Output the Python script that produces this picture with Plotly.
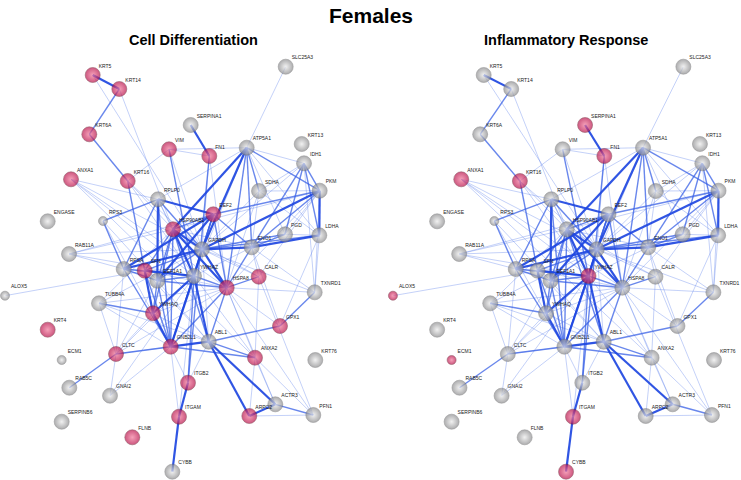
import plotly.graph_objects as go

# ---------------- data ----------------
genes = ['KRT5', 'KRT14', 'KRT6A', 'SERPINA1', 'VIM', 'FN1', 'ATP5A1', 'SLC25A3', 'KRT13', 'IDH1',
         'ANXA1', 'KRT16', 'SDHA', 'PKM', 'RPLP0', 'EEF2', 'ENGASE', 'RPS3', 'HSP90AB1', 'PGD',
         'LDHA', 'GAPDH', 'ENO1', 'RAB11A', 'RPSA', 'SFN', 'EEF1A1', 'YWHAZ', 'HSPA8', 'CALR',
         'TXNRD1', 'ALOX5', 'TUBB4A', 'YWHAQ', 'KRT4', 'GPX1', 'GNB2L1', 'ABL1', 'CLTC', 'ECM1',
         'ANXA2', 'KRT76', 'ITGB2', 'RAB5C', 'GNAI2', 'ACTR3', 'ITGAM', 'ARPC2', 'PFN1', 'SERPINB6',
         'FLNB', 'CYBB']

# network layout coordinates (layout units)
layout_x = [92.7, 119.3, 89.3, 190.7, 169, 209.3, 246.7, 285.7, 301.7, 304,
            71, 127.7, 259, 319.7, 158, 213.3, 47.7, 103, 173, 285,
            319.3, 202, 251.7, 69, 123.7, 144.7, 157.3, 194, 226.7, 258.7,
            314.7, 5, 99, 153, 47.7, 280, 170.7, 208.7, 116, 61.7,
            255, 315.3, 188, 69.3, 110, 275.3, 179, 249.3, 313.3, 61.7,
            132.3, 172.3]
layout_y = [75, 89, 134.3, 125, 149.3, 156, 147.7, 66.7, 144, 163.3,
            179.3, 181, 191, 190.7, 199.3, 214.3, 221.3, 221, 229.3, 234.3,
            235.3, 249.3, 247.3, 254, 269, 270.7, 280.7, 276, 287.7, 276.7,
            292.3, 295.7, 303.3, 313.3, 329.7, 326, 346.7, 341.7, 354, 360,
            357.7, 360, 382.7, 387.7, 395.7, 404.3, 416.7, 416, 415, 421.7,
            437.3, 471.7]

small_nodes = ['RPS3', 'ALOX5', 'ECM1']

cell_differentiation = ['KRT5', 'KRT14', 'KRT6A', 'VIM', 'FN1', 'ANXA1', 'KRT16', 'EEF2', 'HSP90AB1',
                        'SFN', 'HSPA8', 'CALR', 'KRT4', 'GPX1', 'GNB2L1', 'CLTC', 'ANXA2', 'ITGB2',
                        'ITGAM', 'ARPC2', 'FLNB', 'YWHAQ']
inflammatory_response = ['SERPINA1', 'FN1', 'ANXA1', 'KRT16', 'ALOX5', 'YWHAZ', 'ECM1', 'ITGAM', 'CYBB']

# interactions: (gene A, gene B, confidence class 1=low 2=medium 3=high)
edges = [
    ('KRT5', 'KRT14', 3), ('KRT14', 'KRT6A', 2), ('KRT6A', 'KRT16', 2), ('KRT5', 'HSPA8', 1),
    ('KRT14', 'HSP90AB1', 1), ('SERPINA1', 'FN1', 3), ('VIM', 'FN1', 1), ('VIM', 'ATP5A1', 1),
    ('VIM', 'KRT16', 1), ('VIM', 'YWHAZ', 2), ('VIM', 'GAPDH', 1), ('FN1', 'ITGB2', 2),
    ('FN1', 'GAPDH', 1), ('FN1', 'HSPA8', 1), ('SLC25A3', 'ATP5A1', 1),
    ('ATP5A1', 'SDHA', 2), ('ATP5A1', 'PKM', 2), ('ATP5A1', 'ENO1', 2), ('ATP5A1', 'GAPDH', 3),
    ('ATP5A1', 'HSP90AB1', 3), ('ATP5A1', 'YWHAZ', 1), ('ATP5A1', 'LDHA', 1), ('ATP5A1', 'PGD', 1),
    ('ATP5A1', 'IDH1', 1), ('ATP5A1', 'HSPA8', 2), ('ATP5A1', 'RPLP0', 1),
    ('IDH1', 'PKM', 2), ('IDH1', 'LDHA', 2), ('IDH1', 'ENO1', 2), ('IDH1', 'SDHA', 1),
    ('IDH1', 'PGD', 2), ('IDH1', 'GAPDH', 1), ('IDH1', 'TXNRD1', 1),
    ('PKM', 'LDHA', 3), ('PKM', 'ENO1', 2), ('PKM', 'GAPDH', 3), ('PKM', 'PGD', 1),
    ('PKM', 'SDHA', 1), ('PKM', 'EEF2', 2), ('PKM', 'TXNRD1', 1), ('PKM', 'HSPA8', 1),
    ('SDHA', 'ENO1', 1), ('SDHA', 'LDHA', 1), ('SDHA', 'GAPDH', 1), ('SDHA', 'HSPA8', 1),
    ('PGD', 'LDHA', 1), ('PGD', 'ENO1', 2), ('PGD', 'GAPDH', 2),
    ('ENO1', 'LDHA', 3), ('GAPDH', 'ENO1', 3), ('GAPDH', 'LDHA', 2),
    ('ANXA1', 'ANXA2', 1), ('ANXA1', 'HSPA8', 1), ('ANXA1', 'YWHAZ', 1), ('ANXA1', 'RPLP0', 1),
    ('ANXA1', 'GAPDH', 1),
    ('KRT16', 'SFN', 2), ('KRT16', 'HSP90AB1', 1), ('KRT16', 'YWHAZ', 1), ('KRT16', 'GAPDH', 1),
    ('RPLP0', 'EEF2', 3), ('RPLP0', 'RPSA', 2), ('RPLP0', 'EEF1A1', 3), ('RPLP0', 'GAPDH', 2),
    ('RPLP0', 'RPS3', 2), ('RPLP0', 'HSP90AB1', 1), ('RPLP0', 'YWHAZ', 1), ('RPLP0', 'GNB2L1', 2),
    ('RPS3', 'RPSA', 2), ('RPS3', 'EEF1A1', 1), ('RPS3', 'GNB2L1', 1),
    ('EEF2', 'EEF1A1', 3), ('EEF2', 'GAPDH', 2), ('EEF2', 'HSP90AB1', 2), ('EEF2', 'ENO1', 2),
    ('EEF2', 'YWHAZ', 2), ('EEF2', 'RPSA', 3), ('EEF2', 'HSPA8', 2), ('EEF2', 'GNB2L1', 2),
    ('GAPDH', 'HSP90AB1', 3), ('GAPDH', 'YWHAZ', 3), ('GAPDH', 'HSPA8', 3), ('GAPDH', 'EEF1A1', 2),
    ('GAPDH', 'SFN', 2), ('GAPDH', 'RPSA', 3), ('GAPDH', 'TXNRD1', 1), ('GAPDH', 'CALR', 1),
    ('GAPDH', 'GNB2L1', 2), ('GAPDH', 'ABL1', 1), ('GAPDH', 'TUBB4A', 1),
    ('HSP90AB1', 'HSPA8', 3), ('HSP90AB1', 'YWHAZ', 3), ('HSP90AB1', 'SFN', 2), ('HSP90AB1', 'CALR', 1),
    ('HSP90AB1', 'ENO1', 1), ('HSP90AB1', 'ABL1', 2), ('HSP90AB1', 'PKM', 1), ('HSP90AB1', 'EEF1A1', 2),
    ('HSP90AB1', 'YWHAQ', 2), ('HSP90AB1', 'GNB2L1', 2),
    ('YWHAZ', 'SFN', 3), ('YWHAZ', 'YWHAQ', 3), ('YWHAZ', 'GNB2L1', 3), ('YWHAZ', 'ABL1', 3),
    ('YWHAZ', 'HSPA8', 2), ('YWHAZ', 'EEF1A1', 2), ('YWHAZ', 'ENO1', 1), ('YWHAZ', 'ITGB2', 2),
    ('YWHAZ', 'ITGAM', 1), ('YWHAZ', 'CLTC', 1), ('YWHAZ', 'ANXA2', 1),
    ('SFN', 'YWHAQ', 3), ('SFN', 'RPSA', 1), ('SFN', 'GNB2L1', 2), ('SFN', 'ALOX5', 1),
    ('SFN', 'HSPA8', 1), ('SFN', 'ABL1', 1),
    ('YWHAQ', 'GNB2L1', 3), ('YWHAQ', 'CLTC', 1), ('YWHAQ', 'ABL1', 1), ('YWHAQ', 'HSPA8', 1),
    ('GNB2L1', 'ABL1', 3), ('GNB2L1', 'RPSA', 2), ('GNB2L1', 'EEF1A1', 2), ('GNB2L1', 'CLTC', 2),
    ('GNB2L1', 'ITGB2', 1), ('GNB2L1', 'HSPA8', 2), ('GNB2L1', 'ANXA2', 2), ('GNB2L1', 'GNAI2', 1),
    ('GNB2L1', 'ITGAM', 1),
    ('ABL1', 'ARPC2', 3), ('ABL1', 'ACTR3', 3), ('ABL1', 'GPX1', 2), ('ABL1', 'ANXA2', 2),
    ('ABL1', 'ITGB2', 1), ('ABL1', 'HSPA8', 2), ('ABL1', 'TUBB4A', 1), ('ABL1', 'CLTC', 1),
    ('ITGB2', 'ITGAM', 3), ('ITGAM', 'CYBB', 3), ('ARPC2', 'ACTR3', 3), ('ACTR3', 'PFN1', 2),
    ('ARPC2', 'PFN1', 1), ('ACTR3', 'ANXA2', 1), ('PFN1', 'ANXA2', 1), ('ARPC2', 'ANXA2', 1),
    ('HSPA8', 'PFN1', 1), ('CALR', 'PFN1', 1), ('HSPA8', 'ACTR3', 1),
    ('CLTC', 'RAB5C', 2), ('CLTC', 'TUBB4A', 1), ('CLTC', 'GNAI2', 1), ('CLTC', 'RPSA', 1),
    ('CLTC', 'HSPA8', 1), ('CLTC', 'EEF1A1', 1),
    ('TUBB4A', 'YWHAQ', 2), ('TUBB4A', 'HSPA8', 1), ('TUBB4A', 'GNB2L1', 1), ('TUBB4A', 'HSP90AB1', 1),
    ('HSPA8', 'CALR', 2), ('HSPA8', 'ANXA2', 1), ('HSPA8', 'GPX1', 1), ('HSPA8', 'ENO1', 2),
    ('HSPA8', 'EEF1A1', 2), ('CALR', 'ANXA2', 1), ('CALR', 'PKM', 1), ('CALR', 'ENO1', 1),
    ('TXNRD1', 'GPX1', 2), ('TXNRD1', 'LDHA', 1), ('TXNRD1', 'HSPA8', 1), ('TXNRD1', 'ENO1', 1),
    ('GPX1', 'LDHA', 1), ('GPX1', 'ENO1', 1),
    ('RAB11A', 'HSP90AB1', 1), ('RAB11A', 'GAPDH', 1), ('RAB11A', 'YWHAZ', 1), ('RAB11A', 'EEF2', 1),
    ('RAB11A', 'RPSA', 1),
    ('GNAI2', 'YWHAZ', 1), ('RPSA', 'EEF1A1', 2), ('RPSA', 'YWHAZ', 2), ('EEF1A1', 'ABL1', 1),
    ('EEF1A1', 'YWHAQ', 2),
]

panel_titles = ['Cell Differentiation', 'Inflammatory Response']
panel_members = [cell_differentiation, inflammatory_response]
main_title = 'Females'

# ---------------- styles ----------------
edge_styles = {
    1: dict(width=0.8, color='rgba(90,125,235,0.45)'),
    2: dict(width=1.4, color='rgba(55,95,230,0.75)'),
    3: dict(width=2.2, color='rgba(30,70,225,0.92)'),
}
GRAY_EDGE, GRAY_CENTER = '#8a8a8c', '#ececec'
RED_EDGE, RED_CENTER = '#b8104a', '#f27a9c'
FONT = 'Liberation Sans, Arial'

pos = {g: (x, y) for g, x, y in zip(genes, layout_x, layout_y)}

fig = go.Figure()
axes = ['x', 'x2']
for p, (xa, members) in enumerate(zip(axes, panel_members)):
    for cls in (1, 2, 3):
        ex, ey = [], []
        for a, b, w in edges:
            if w != cls:
                continue
            ex += [pos[a][0], pos[b][0], None]
            ey += [pos[a][1], pos[b][1], None]
        fig.add_trace(go.Scatter(x=ex, y=ey, mode='lines', xaxis=xa, yaxis='y',
                                 line=edge_styles[cls], hoverinfo='skip', showlegend=False))
    member_set = set(members)
    for is_red in (False, True):
        sel = [g for g in genes if (g in member_set) == is_red]
        fig.add_trace(go.Scatter(
            x=[pos[g][0] for g in sel], y=[pos[g][1] for g in sel],
            mode='markers', xaxis=xa, yaxis='y',
            marker=dict(
                size=[9 if g in small_nodes else 15 for g in sel],
                color=RED_EDGE if is_red else GRAY_EDGE,
                gradient=dict(type='radial', color=RED_CENTER if is_red else GRAY_CENTER),
                line=dict(width=0.6, color='#6a2030' if is_red else '#6e6e70'),
            ),
            cliponaxis=False,
            hovertext=sel, hoverinfo='text', showlegend=False))
    # gene labels
    fig.add_trace(go.Scatter(
        x=[pos[g][0] for g in genes], y=[pos[g][1] for g in genes],
        mode='markers+text', xaxis=xa, yaxis='y',
        text=genes, textposition='top right',
        textfont=dict(size=5, color='#222222', family=FONT),
        marker=dict(size=8, opacity=0),
        cliponaxis=False, hoverinfo='skip', showlegend=False))

fig.add_annotation(text='<b>%s</b>' % main_title, x=0.5, y=1 - 15 / 480, xref='paper', yref='paper',
                   xanchor='center', yanchor='middle', showarrow=False,
                   font=dict(size=21, color='#000000', family=FONT))
for tx, title in zip([194 / 741, 566 / 741], panel_titles):
    fig.add_annotation(text='<b>%s</b>' % title, x=tx, y=1 - 40 / 480, xref='paper', yref='paper',
                       xanchor='center', yanchor='middle', showarrow=False,
                       font=dict(size=14.5, color='#000000', family=FONT))

ax_common = dict(visible=False, showgrid=False, zeroline=False, fixedrange=True)
fig.update_layout(
    width=741, height=480, margin=dict(l=0, r=0, t=0, b=0),
    paper_bgcolor='white', plot_bgcolor='white',
    xaxis=dict(domain=[0, 0.5], range=[0, 370.5], **ax_common),
    xaxis2=dict(domain=[0.5, 1], range=[-16.7, 341.4], anchor='y', **ax_common),
    yaxis=dict(domain=[0, 1], range=[480, 0], **ax_common),
)

fig.write_html('out.html', config={'displayModeBar': False},
               post_script="document.body.style.margin='0px';document.body.style.padding='0px';")
